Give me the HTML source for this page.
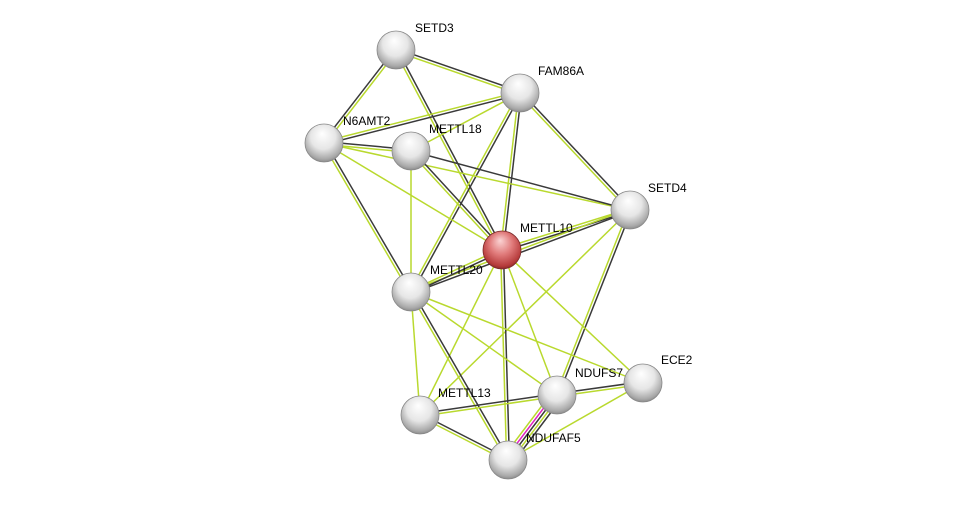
<!DOCTYPE html>
<html><head><meta charset="utf-8"><style>
html,body{margin:0;padding:0;background:#fff;width:975px;height:505px;overflow:hidden}
text{font-family:"Liberation Sans",sans-serif;font-size:12px;fill:#000}
</style></head><body>
<svg id="s" width="975" height="505" viewBox="0 0 975 505" xmlns="http://www.w3.org/2000/svg">
<defs>
<radialGradient id="g" cx="50%" cy="40%" r="60%" fx="45%" fy="25%">
<stop offset="0" stop-color="#ffffff"/><stop offset="0.55" stop-color="#e6e6e6"/><stop offset="0.9" stop-color="#a8a8a8"/><stop offset="1" stop-color="#8c8c8c"/></radialGradient>
<radialGradient id="r" cx="50%" cy="40%" r="60%" fx="45%" fy="25%">
<stop offset="0" stop-color="#fbd4d4"/><stop offset="0.5" stop-color="#e07a7a"/><stop offset="0.9" stop-color="#b53a3a"/><stop offset="1" stop-color="#8a2a2a"/></radialGradient>
</defs>
<g id="edges"></g>
<g id="nodes"></g>
<text x="415" y="32">SETD3</text>
<text x="538" y="75">FAM86A</text>
<text x="343" y="125">N6AMT2</text>
<text x="429" y="133">METTL18</text>
<text x="648" y="192">SETD4</text>
<text x="520" y="232">METTL10</text>
<text x="430" y="274">METTL20</text>
<text x="661" y="364">ECE2</text>
<text x="575" y="377">NDUFS7</text>
<text x="438" y="397">METTL13</text>
<text x="526" y="442">NDUFAF5</text>
</svg>
<script>
var N={SETD3:[396,50],FAM86A:[520,93],N6AMT2:[324,143],METTL18:[411,151],SETD4:[630,210],METTL10:[502,250],METTL20:[411,292],ECE2:[643,383],NDUFS7:[557,395],METTL13:[420,415],NDUFAF5:[508,460]};
var D="#3a3a3a",G="#b9d92e",M="#e020c0";
var E=[["SETD3","FAM86A",[D,G]],["SETD3","N6AMT2",[G,D]],["SETD3","METTL10",[D,G]],
["FAM86A","N6AMT2",[D,G]],["FAM86A","METTL18",[G]],["FAM86A","METTL10",[D,G]],["FAM86A","SETD4",[D,G]],["FAM86A","METTL20",[D,G]],
["N6AMT2","METTL18",[D,G]],["N6AMT2","METTL10",[G]],["N6AMT2","METTL20",[D,G]],["N6AMT2","SETD4",[G]],
["METTL18","METTL10",[D,G]],["METTL18","METTL20",[G]],["METTL18","SETD4",[D]],
["SETD4","METTL10",[D,G]],["SETD4","METTL20",[D,G]],["SETD4","NDUFS7",[D,G]],["SETD4","METTL13",[G]],
["METTL10","METTL20",[D,G]],["METTL10","NDUFAF5",[D,G]],["METTL10","NDUFS7",[G]],["METTL10","ECE2",[G]],["METTL10","METTL13",[G]],
["METTL20","METTL13",[G]],["METTL20","NDUFAF5",[D,G]],["METTL20","NDUFS7",[G]],["METTL20","ECE2",[G]],
["METTL13","NDUFS7",[D,G]],["METTL13","NDUFAF5",[D,G]],["NDUFS7","NDUFAF5",[D,G,D,M,G]],["NDUFS7","ECE2",[D,G]],["NDUFAF5","ECE2",[G]]];
var ns="http://www.w3.org/2000/svg",eg=document.getElementById("edges"),ng=document.getElementById("nodes");
E.forEach(function(e){var a=N[e[0]],b=N[e[1]],dx=b[0]-a[0],dy=b[1]-a[1],L=Math.hypot(dx,dy),px=-dy/L,py=dx/L,c=e[2],n=c.length;
c.forEach(function(col,i){var o=(i-(n-1)/2)*2.8;var l=document.createElementNS(ns,"line");
l.setAttribute("x1",a[0]+px*o);l.setAttribute("y1",a[1]+py*o);l.setAttribute("x2",b[0]+px*o);l.setAttribute("y2",b[1]+py*o);
l.setAttribute("stroke",col);l.setAttribute("stroke-width","1.5");eg.appendChild(l);});});
for(var k in N){var c=document.createElementNS(ns,"circle");c.setAttribute("cx",N[k][0]);c.setAttribute("cy",N[k][1]);c.setAttribute("r",19);
c.setAttribute("fill",k=="METTL10"?"url(#r)":"url(#g)");c.setAttribute("stroke",k=="METTL10"?"#7a2a2a":"#888");c.setAttribute("stroke-width","0.8");ng.appendChild(c);}
</script>
</body></html>
